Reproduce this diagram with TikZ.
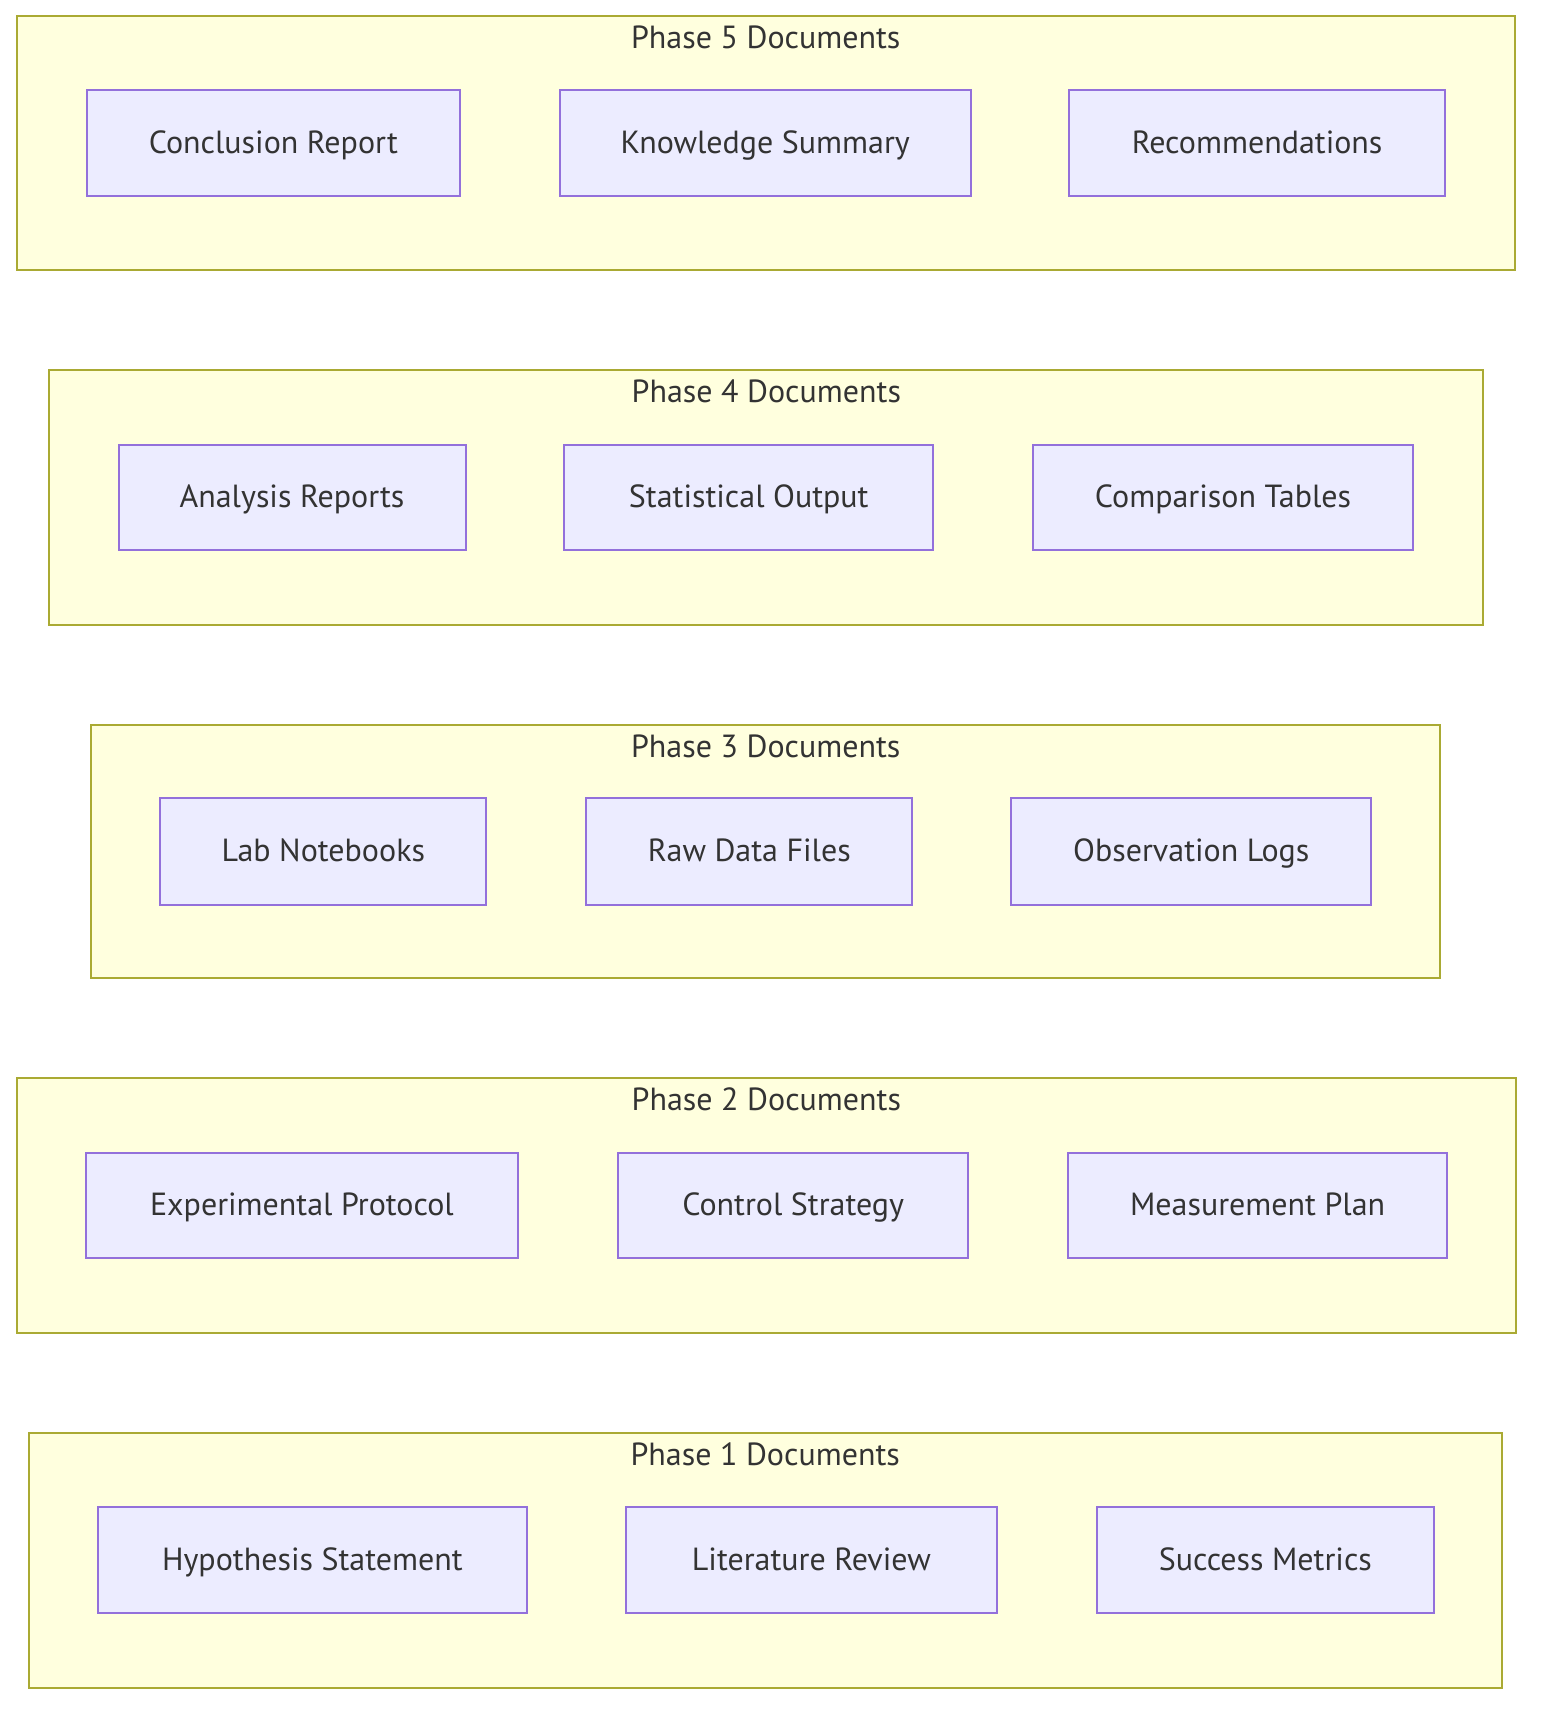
\documentclass[tikz,border=0pt]{standalone}
\usepackage{fontspec}
\setmainfont{PT Sans}
\definecolor{clfill}{HTML}{FFFFDE}
\definecolor{clstroke}{HTML}{AAAA33}
\definecolor{ndfill}{HTML}{ECECFF}
\definecolor{ndstroke}{HTML}{9370DB}
\definecolor{txt}{HTML}{333333}
\begin{document}
\begin{tikzpicture}[x=0.5pt,y=-0.5pt,
  cluster/.style={draw=clstroke,fill=clfill,line width=1pt},
  doc/.style={draw=ndstroke,fill=ndfill,line width=1pt},
  lbl/.style={text=txt,font=\fontsize{16}{19}\selectfont,inner sep=0pt,anchor=base},
  ttl/.style={text=txt,font=\fontsize{16}{19}\selectfont,inner sep=0pt,anchor=base}]
\useasboundingbox[fill=white] (0,0) rectangle (1548,1722);
\newcommand{\mycluster}[6]{%
  \draw[cluster] (#1,#2) rectangle (#3,#4);
  \node[ttl] (#6) at ({(#1+#3)/2},{#2+32.5}) {#5};}
\newcommand{\mydoc}[6]{%
  \draw[doc] (#1,#2) rectangle (#3,#4);
  \node[lbl] (#6) at ({(#1+#3)/2},{(#2+#4)/2+10}) {#5};}
% Phase 5
\mycluster{16.5}{16.5}{1515}{270}{Phase 5 Documents}{p5}
\mydoc{86.7}{90}{460}{196.5}{Conclusion Report}{n51}
\mydoc{560}{90}{970.5}{196.5}{Knowledge Summary}{n52}
\mydoc{1069.4}{90}{1444.8}{196.5}{Recommendations}{n53}
% Phase 4
\mycluster{49.4}{370}{1483.2}{624.7}{Phase 4 Documents}{p4}
\mydoc{118.6}{444.7}{465.5}{550.1}{Analysis Reports}{n41}
\mydoc{564.3}{444.7}{933.2}{550.1}{Statistical Output}{n42}
\mydoc{1033.1}{444.7}{1413}{550.1}{Comparison Tables}{n43}
% Phase 3
\mycluster{91.1}{724.6}{1440.4}{978.2}{Phase 3 Documents}{p3}
\mydoc{160.3}{798.2}{486.4}{904.7}{Lab Notebooks}{n31}
\mydoc{586.3}{798.2}{912.4}{904.7}{Raw Data Files}{n32}
\mydoc{1011.2}{798.2}{1371.3}{904.7}{Observation Logs}{n33}
% Phase 2
\mycluster{16.5}{1078.1}{1516.2}{1332.8}{Phase 2 Documents}{p2}
\mydoc{85.6}{1152.8}{518.2}{1258.2}{Experimental Protocol}{n21}
\mydoc{618.1}{1152.8}{968.3}{1258.2}{Control Strategy}{n22}
\mydoc{1068.3}{1152.8}{1447}{1258.2}{Measurement Plan}{n23}
% Phase 1
\mycluster{28.5}{1432.8}{1501.9}{1687.5}{Phase 1 Documents}{p1}
\mydoc{97.7}{1507.4}{527}{1612.8}{Hypothesis Statement}{n11}
\mydoc{625.8}{1507.4}{996.9}{1612.8}{Literature Review}{n12}
\mydoc{1096.8}{1507.4}{1433.9}{1612.8}{Success Metrics}{n13}
\end{tikzpicture}
\end{document}
